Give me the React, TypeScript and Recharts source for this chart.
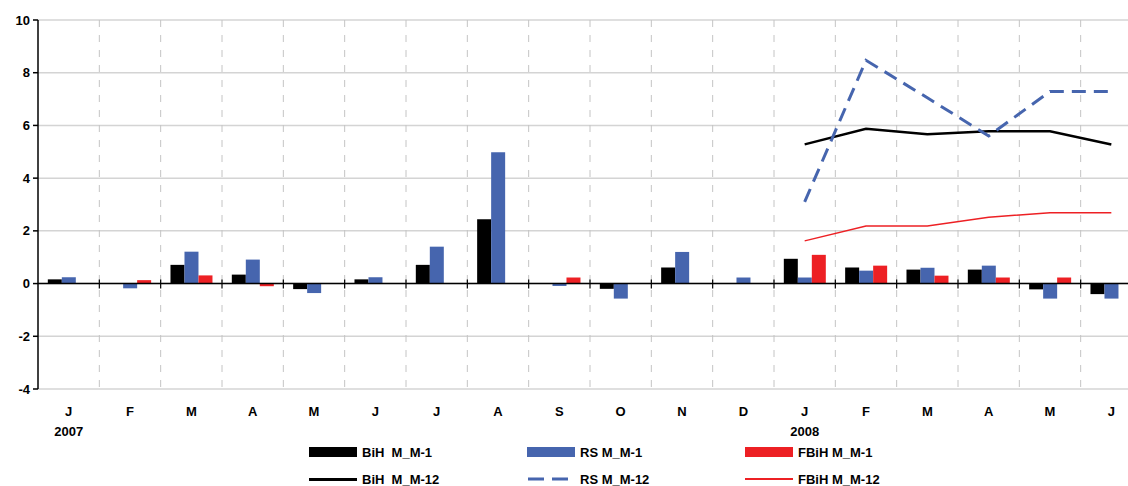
import {
  Bar,
  CartesianGrid,
  ComposedChart,
  Line,
  ReferenceLine,
  XAxis,
  YAxis,
} from 'recharts'

const months = ['J', 'F', 'M', 'A', 'M', 'J', 'J', 'A', 'S', 'O', 'N', 'D', 'J', 'F', 'M', 'A', 'M', 'J']
const years: (string | null)[] = ['2007', null, null, null, null, null, null, null, null, null, null, null, '2008', null, null, null, null, null]

// month-on-month change (bars)
const bihMM1 = [0.16, null, 0.71, 0.34, -0.21, 0.16, 0.71, 2.44, null, -0.2, 0.61, null, 0.94, 0.61, 0.53, 0.53, -0.22, -0.4]
const rsMM1 = [0.24, -0.18, 1.21, 0.91, -0.36, 0.24, 1.4, 4.98, -0.09, -0.57, 1.2, 0.23, 0.23, 0.49, 0.6, 0.68, -0.57, -0.57]
const fbihMM1 = [null, 0.13, 0.31, -0.1, null, null, null, null, 0.23, null, null, null, 1.09, 0.68, 0.3, 0.23, 0.23, null]

// year-on-year change (lines)
const bihMM12 = [null, null, null, null, null, null, null, null, null, null, null, null, 5.28, 5.87, 5.67, 5.78, 5.78, 5.28]
const rsMM12 = [null, null, null, null, null, null, null, null, null, null, null, null, 3.1, 8.47, 7.05, 5.6, 7.29, 7.29]
const fbihMM12 = [null, null, null, null, null, null, null, null, null, null, null, null, 1.62, 2.18, 2.18, 2.52, 2.69, 2.69]

const yTicks = [-4, -2, 0, 2, 4, 6, 8, 10]

const data = months.map((m, i) => ({
  idx: i,
  month: m,
  year: years[i],
  bihMM1: bihMM1[i],
  rsMM1: rsMM1[i],
  fbihMM1: fbihMM1[i],
  bihMM12: bihMM12[i],
  rsMM12: rsMM12[i],
  fbihMM12: fbihMM12[i],
}))

const BLACK = '#000000'
const BLUE = '#4665ae'
const RED = '#ed2024'
const FONT = '"Liberation Sans", Arial, sans-serif'

function MonthTick(props: any) {
  const { x, y, payload } = props
  const d = data[payload.value]
  return (
    <g>
      <text x={x} y={y + 27} textAnchor="middle" fontFamily={FONT} fontWeight="bold" fontSize={13} fill="#000">
        {d.month}
      </text>
      {d.year && (
        <text x={x} y={y + 47} textAnchor="middle" fontFamily={FONT} fontWeight="bold" fontSize={13} fill="#000">
          {d.year}
        </text>
      )}
    </g>
  )
}

function ZeroLine(props: any) {
  const { x1, x2, y1 } = props
  const step = (x2 - x1) / months.length
  const marks = []
  for (let i = 1; i < months.length; i++) {
    const x = x1 + i * step
    marks.push(<line key={i} x1={x} x2={x} y1={y1 - 4} y2={y1 + 5} stroke="#000" strokeWidth={1.2} />)
  }
  return (
    <g>
      <line x1={x1} x2={x2} y1={y1} y2={y1} stroke="#000" strokeWidth={1.5} />
      {marks}
    </g>
  )
}

const legendItems = [
  { label: 'BiH  M_M-1', kind: 'bar', color: BLACK },
  { label: 'RS M_M-1', kind: 'bar', color: BLUE },
  { label: 'FBiH M_M-1', kind: 'bar', color: RED },
  { label: 'BiH  M_M-12', kind: 'line', color: BLACK },
  { label: 'RS M_M-12', kind: 'dash', color: BLUE },
  { label: 'FBiH M_M-12', kind: 'thin', color: RED },
]
const legendCols = [309, 527, 745]
const legendRows = [452, 479]

function LegendBox() {
  return (
    <>
      {legendItems.map((it, i) => {
        const left = legendCols[i % 3]
        const top = legendRows[Math.floor(i / 3)]
        let swatch
        if (it.kind === 'bar') {
          swatch = <div style={{ width: 48, height: 10, background: it.color }} />
        } else if (it.kind === 'line') {
          swatch = <div style={{ width: 48, height: 3, background: it.color }} />
        } else if (it.kind === 'dash') {
          swatch = (
            <svg width={48} height={4}>
              <line x1={1} x2={48} y1={2} y2={2} stroke={it.color} strokeWidth={3} strokeDasharray="16 8" />
            </svg>
          )
        } else {
          swatch = <div style={{ width: 48, height: 1.5, background: it.color }} />
        }
        return (
          <div
            key={i}
            style={{
              position: 'absolute',
              left,
              top: top - 10,
              height: 20,
              display: 'flex',
              alignItems: 'center',
              gap: 5,
              fontFamily: FONT,
              fontWeight: 'bold',
              fontSize: 13,
              whiteSpace: 'pre',
              color: '#000',
            }}
          >
            {swatch}
            <span>{it.label}</span>
          </div>
        )
      })}
    </>
  )
}

export default function App() {
  return (
    <div
      style={{
        position: 'fixed',
        left: 0,
        top: 0,
        width: 1128,
        height: 486,
        overflow: 'hidden',
        background: '#fff',
      }}
    >
      <ComposedChart
        width={1150}
        height={486}
        data={data}
        margin={{ top: 20, right: 8, left: 8, bottom: 0 }}
        barCategoryGap="16%"
        barGap={0}
      >
        <CartesianGrid
          stroke="#d4d4d4"
          strokeWidth={1.5}
          vertical={false}
        />
        <CartesianGrid
          stroke="#c4c4c4"
          strokeDasharray="7 8"
          horizontal={false}
          verticalCoordinatesGenerator={({ offset }: any) =>
            months.slice(1).map((_, i) => offset.left + ((i + 1) * offset.width) / months.length)
          }
        />
        <XAxis
          dataKey="idx"
          type="category"
          height={97}
          axisLine={false}
          tickLine={false}
          tickSize={0}
          tickMargin={0}
          interval={0}
          tick={<MonthTick />}
        />
        <YAxis
          domain={[-4, 10]}
          ticks={yTicks}
          width={30}
          tickSize={5}
          tickMargin={3}
          interval={0}
          allowDataOverflow
          axisLine={{ stroke: '#000', strokeWidth: 1.5 }}
          tickLine={{ stroke: '#000', strokeWidth: 1.5 }}
          tick={{ fill: '#000', fontFamily: FONT, fontWeight: 'bold', fontSize: 13 }}
        />
        <ReferenceLine y={0} shape={<ZeroLine />} />
        <Bar dataKey="bihMM1" name="BiH  M_M-1" fill={BLACK} isAnimationActive={false} />
        <Bar dataKey="rsMM1" name="RS M_M-1" fill={BLUE} isAnimationActive={false} />
        <Bar dataKey="fbihMM1" name="FBiH M_M-1" fill={RED} isAnimationActive={false} />
        <Line
          dataKey="bihMM12"
          name="BiH  M_M-12"
          stroke={BLACK}
          strokeWidth={2.5}
          dot={false}
          activeDot={false}
          type="linear"
          isAnimationActive={false}
        />
        <Line
          dataKey="rsMM12"
          name="RS M_M-12"
          stroke={BLUE}
          strokeWidth={3}
          strokeDasharray="14 8"
          dot={false}
          activeDot={false}
          type="linear"
          isAnimationActive={false}
        />
        <Line
          dataKey="fbihMM12"
          name="FBiH M_M-12"
          stroke={RED}
          strokeWidth={1.5}
          dot={false}
          activeDot={false}
          type="linear"
          isAnimationActive={false}
        />
      </ComposedChart>
      <LegendBox />
    </div>
  )
}
